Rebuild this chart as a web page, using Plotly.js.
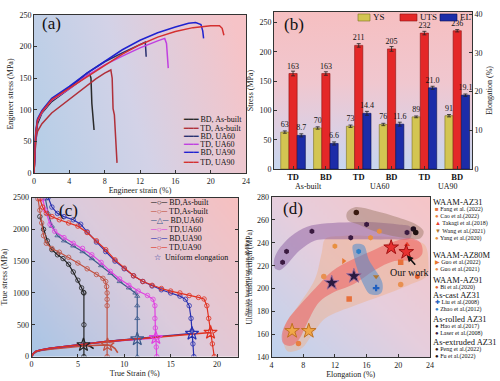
<!DOCTYPE html>
<html><head><meta charset="utf-8">
<script src="https://cdn.plot.ly/plotly-3.0.1.min.js"></script>
<style>html,body{margin:0;padding:0;background:#fff}#chart{width:500px;height:381px}</style>
</head><body><div id="chart"></div>
<script>
// ===== (a) engineering stress-strain =====
const aNames  = ['BD, As-built','TD, As-built','BD, UA60','TD, UA60','BD, UA90','TD, UA90'];
const aColors = ['#2a2a2a','#b0303a','#283070','#c040e0','#1e22d0','#d43030'];
const aX = [
  [0,0.1,0.2,0.4,0.9,2,3,4,5,6,6.3,6.45,6.55,6.8],
  [0,0.1,0.2,0.4,0.9,2,3,4,5,6,7,8,8.7,8.85,8.95,9.1,9.25,9.4],
  [0,0.1,0.2,0.4,0.9,2,3,4,6,8,10,12,12.6,12.65,12.7],
  [0,0.1,0.2,0.4,0.9,2,3,4,6,8,10,12,14,14.8,15.0,15.1,15.2],
  [0,0.1,0.2,0.4,0.9,2,3,4,6,8,10,12,14,16,17.5,18.3,18.9,19.1,19.2],
  [0,0.1,0.2,0.4,0.9,2,3,4,6,8,10,12,14,16,18,20,21,21.3,21.5]
];
const aY = [
  [0,30,55,78,95,113,123,133,143,154,157,150,110,68],
  [0,30,52,66,78,95,106,116,128,139,149,158,163,150,102,92,60,16],
  [0,35,62,84,97,116,126,135,158,176,190,204,207,196,184],
  [0,35,62,82,96,115,124,133,154,171,185,198,209,213,205,185,166],
  [0,38,66,86,99,118,127,137,158,177,195,210,222,231,237,238,235,225,213],
  [0,36,64,84,97,116,125,134,152,171,188,203,215,224,230,233,233,229,218]
];

// ===== (b) bar chart =====
const bCats   = ['TD','BD','TD','BD','TD','BD'];
const bGroups = ['As-built','UA60','UA90'];
const bYS  = [63,70,73,76,89,91];
const bUTS = [163,163,211,205,232,236];
const bEL  = [8.7,6.6,14.4,11.6,21.0,19.1];
const bErrYS  = [2,2,2,2,1.5,2];
const bErrUTS = [4,3,3,4,3,2];
const bErrEL  = [0.4,0.4,0.5,0.5,0.4,0.3];

// ===== (c) strain hardening / true stress =====
const cNames  = ['BD,As-built','TD,As-built','BD,UA60','TD,UA60','BD,UA90','TD,UA90'];
const cColors = ['#222222','#c05040','#3c5a8c','#e040e0','#2830b0','#e03020'];
const cSym    = ['circle-open','circle-open','triangle-up-open','circle-open','circle-open','circle-open'];
const cHX = [
  [0.9,1.3,1.7,2.2,2.8,3.4,4.0,4.5,5.0,5.4,5.6,5.65,5.65,5.65],
  [0.7,0.9,1.1,1.3,1.6,2.2,3,4,5,6,7,7.7,8.0,8.1,8.15,8.15,8.15,8.15],
  [1.5,1.8,2.2,2.8,3.5,4.5,5.5,6.5,7.5,8.5,9.5,10.5,11.2,11.4,11.4,11.4,11.4],
  [1.2,1.5,2.0,2.5,3.5,4.5,5.5,6.5,7.5,8.5,9.5,10.5,11.5,12.5,13.1,13.3,13.3,13.35,13.4,13.45,13.5],
  [1.8,2.2,2.8,3.5,4.5,5.3,6,7,8,9,10,11,12,13,14,15,16,16.6,17,17.2,17.3,17.4,17.5],
  [0.9,1.2,1.6,2.2,3,4,5,6,7,8,9,10,11,12,13,14,15,16,17,18,18.6,18.9,19.1,19.3,19.5,19.7]
];
const cHY = [
  [2200,2000,1820,1680,1600,1540,1450,1330,1200,1080,1010,1000,500,0],
  [2480,2300,2100,1900,1780,1700,1640,1560,1470,1380,1290,1230,1180,1100,1000,900,800,0],
  [2480,2250,2050,1900,1820,1740,1650,1540,1430,1310,1180,1080,1000,950,800,600,0],
  [2480,2300,2080,1970,1870,1780,1700,1600,1480,1340,1220,1120,1030,960,900,800,600,450,300,150,0],
  [2500,2350,2250,2200,2150,2080,1960,1800,1650,1500,1380,1270,1180,1110,1050,1000,950,900,800,600,400,200,0],
  [2480,2350,2250,2200,2150,2100,2050,1950,1820,1680,1520,1390,1270,1180,1120,1070,1030,1000,960,930,905,800,600,400,200,0]
];
const cSX = [
  [0,0.2,0.5,1,2,3.4,4.5,5.6,6,6.4,6.7],
  [0,0.2,0.5,1,2,3.4,5,6.5,8.2,8.6,9.0,9.3],
  [0,0.2,0.5,1,2,3.4,5,6.5,8,10,11.4],
  [0,0.2,0.5,1,2,3.4,5,6.5,8,10,11.4,13.4],
  [0,0.2,0.5,1,2,3.4,5,6.5,8,10,12,14,16,17.3],
  [0,0.2,0.5,1,2,3.4,5,6.5,8,10,12,14,16,17.3,19.3]
];
const cSY = [
  [0,48,80,100,125,150,168,184,178,155,125],
  [0,45,75,95,118,140,160,175,184,170,125,60],
  [0,50,85,105,130,158,185,210,235,260,275],
  [0,50,85,105,130,158,185,210,235,258,275,295],
  [0,50,85,105,130,158,185,210,235,262,290,318,345,362],
  [0,50,85,105,130,158,185,210,235,262,290,318,345,362,378]
];
const cUniX = [5.6,8.2,11.4,13.4,17.3,19.3];
const cUniY = [184,184,275,295,362,378];

// ===== (d) UTS vs elongation comparison =====
const dNames = ['Fang et al. (2022)','Cao et al.(2022)','Takagi et al.(2018)','Wang et al.(2021)','Yang et al.(2020)',
  'Guo et al.(2022)','Guo et al.(2021)','Bi et al.(2020)','Liu et al.(2008)','Zhao et al.(2012)',
  'Hao et al.(2017)','Laser et al.(2008)','Peng et al.(2022)','Fu et al.(2022)'];
const dGroupNames = ['WAAM-AZ31','WAAM-AZ80M','WAAM-AZ91','As-cast AZ31','As-rolled AZ31','As-extruded AZ31'];
const dSymbols = ['square','circle','triangle-up','triangle-down','hexagon','triangle-right','circle','hexagon','cross','hexagon','circle','hexagon','circle','circle'];
const dGlyphs  = ['■','●','▲','▼','●','▶','●','●','✚','●','●','●','●','●'];
const dColors  = ['#e8703a','#e88040','#e84030','#b07830','#e89040','#e87830','#e89050','#e06030','#2060c0','#3080c8','#201020','#3a1a40','#3a1a10','#201010'];
const dX = [[13.8,20.3],[7.4],[21.1],[17.2],[12.0,16.5,17.6],[13.1],[10.6,20.3],[22.4],[17.2],[15.0],[21.9],[5.4,5.9,9.1,14.0,16.0,21.1],[14.7],[22.2]];
const dY = [[191,223],[152],[238.5],[210.5],[237,244.5,250],[224],[210.5,203.5],[210.5],[200.5],[232.5],[252],[223,232.5,250,244.5,256,249],[266.5],[249]];
const dStarFill = ['#f0a848','#f0a848','#2a1a40','#2a1a40','#e83030','#e83030'];
const dStarLine = ['#c07020','#c07020','#9a6a9a','#9a6a9a','#a01010','#a01010'];
// shaded regions (Elongation, UTS)
const regOrangeX = [10.8,13,16,19.2,22,23.4,23.8,23.6,21.3,18,14.6,10.8,9.1,7.8,6.1,5.5,5.7,7.4,9.5,10.35];
const regOrangeY = [243.5,246,246,245,242,237.7,222,211,203,194,185.5,174,159.4,147.8,145,153.6,168,185.5,208.7,231.8];
const regPurpleX = [4.3,4.8,6.5,8.5,11,14,17,20,21.5,21.5,19,15,11,9.5,7.5,5.8,5,4.4];
const regPurpleY = [224,233,246,254,257,258,258,256,254,244,243,243,243,242,233,220,216,218];
const regBrownX = [13.5,14.5,17,20,22.5,23.2,22.8,20,17,15,13.6];
const regBrownY = [266,271,268,262,255,250,244,245,250,256,260];
const regRedX = [5.3,6,7.5,9.5,11.6,14.4,17,19,21.5,22.8,23,22,19.5,17,14.4,11.6,10,8.5,7.5,6.5,5.5];
const regRedY = [160,172,185,200,215,226,234,240,244,240,230,225,224,216,204,196,188,170,156,150,152];
const regBlueX = [14.3,15.6,16.3,18,17.8,16.5,15.5,14.4];
const regBlueY = [238,238,225,205,196,195,205,228];

// ===== layout helpers =====
const W = 500, H = 381;
const serif = '"Liberation Serif","DejaVu Serif",serif';
const dx = (a,b)=>[a/W,b/W];
const dy = (top,bot)=>[1-bot/H,1-top/H];
const A = {x:dx(34,246),   y:dy(15,173)};
const B = {x:dx(274,472),  y:dy(12,169)};
const C = {x:dx(31.5,238), y:dy(197.5,356.6)};
const D = {x:dx(271.5,430),y:dy(197,357.3)};

function grad(w,h,x0,y0,x1,y1,stops){
  const c=document.createElement('canvas'); c.width=w; c.height=h;
  const g=c.getContext('2d'); const lg=g.createLinearGradient(x0,y0,x1,y1);
  stops.forEach(s=>lg.addColorStop(s[0],s[1])); g.fillStyle=lg; g.fillRect(0,0,w,h);
  return c.toDataURL();
}
function bgImg(P,src){
  return {source:src,xref:'paper',yref:'paper',x:P.x[0],y:P.y[1],sizex:P.x[1]-P.x[0],sizey:P.y[1]-P.y[0],
    xanchor:'left',yanchor:'top',sizing:'stretch',layer:'below'};
}
const images = [
  bgImg(A, grad(212,158,0,110,212,48,[[0,'#b7cee7'],[0.45,'#d3d2e7'],[1,'#f6c3c7']])),
  bgImg(B, grad(198,157,0,0,0,157,[[0,'#f6bfc1'],[0.45,'#f0c7cf'],[0.75,'#dccfe3'],[1,'#c6d6ef']])),
  bgImg(C, grad(207,159,0,159,207,0,[[0,'#a8c5e6'],[0.5,'#dccbdc'],[1,'#f7c0c0']])),
  bgImg(D, grad(159,160,0,160,159,0,[[0,'#bfd3ee'],[0.5,'#e6cedd'],[1,'#f6c5c7']]))
];

const axBase = {showline:true,linecolor:'#333',linewidth:1,mirror:true,ticks:'inside',ticklen:3,tickcolor:'#333',
  tickfont:{family:serif,size:8,color:'#222'},showgrid:false,zeroline:false,automargin:false};
const tt = (t,s)=>({text:t,font:{family:serif,size:s||8,color:'#222'}});

const traces = [];
// (a)
aNames.forEach((n,i)=>traces.push({type:'scatter',mode:'lines',x:aX[i],y:aY[i],xaxis:'x',yaxis:'y',
  line:{color:aColors[i],width:1.5},showlegend:false,name:n}));
// (b)
const bIdx = bCats.map((c,i)=>i);
const barCommon = {type:'bar',xaxis:'x2',width:0.25,textposition:'outside',constraintext:'none',cliponaxis:false,
  textfont:{family:serif,size:8,color:'#111'},showlegend:false};
traces.push(Object.assign({},barCommon,{x:bIdx,y:bYS,yaxis:'y2',offset:-0.375,name:'YS',
  marker:{color:'#d3c552',line:{color:'#7a7020',width:0.6}},text:bYS.map(String),
  error_y:{type:'data',array:bErrYS,color:'#222',thickness:0.8,width:2}}));
traces.push(Object.assign({},barCommon,{x:bIdx,y:bUTS,yaxis:'y2',offset:-0.125,name:'UTS',
  marker:{color:'#e42828',line:{color:'#8a1010',width:0.6}},text:bUTS.map(String),
  error_y:{type:'data',array:bErrUTS,color:'#222',thickness:0.8,width:2}}));
traces.push(Object.assign({},barCommon,{x:bIdx,y:bEL,yaxis:'y3',offset:0.125,name:'EL',
  marker:{color:'#1c2ca8',line:{color:'#0a1050',width:0.6}},text:bEL.map(v=>v.toFixed(1)),
  error_y:{type:'data',array:bErrEL,color:'#222',thickness:0.8,width:2}}));
// (c) true stress on left axis, strain hardening rate on right axis
cNames.forEach((n,i)=>traces.push({type:'scatter',mode:'lines',x:cSX[i],y:cSY[i],xaxis:'x3',yaxis:'y4',
  line:{color:cColors[i],width:1.6},showlegend:false}));
cNames.forEach((n,i)=>traces.push({type:'scatter',mode:'lines+markers',x:cHX[i],y:cHY[i],xaxis:'x3',yaxis:'y6',
  line:{color:cColors[i],width:1.2},marker:{symbol:cSym[i],size:4.5,color:cColors[i],line:{width:0.8}},showlegend:false,name:n}));
traces.push({type:'scatter',mode:'markers',x:cUniX,y:cUniY,xaxis:'x3',yaxis:'y4',
  marker:{symbol:'star-open',size:10,color:cColors,line:{width:1.2}},showlegend:false,name:'Uniform elongation'});
// (d) regions
const region=(x,y,c)=>({type:'scatter',mode:'lines',x:x.concat([x[0]]),y:y.concat([y[0]]),xaxis:'x4',yaxis:'y5',
  fill:'toself',fillcolor:c,line:{width:0,shape:'spline',smoothing:1},hoverinfo:'skip',showlegend:false});
traces.push(region(regOrangeX,regOrangeY,'rgba(240,175,135,0.45)'));
traces.push(region(regPurpleX,regPurpleY,'rgba(125,75,150,0.42)'));
traces.push(region(regBrownX,regBrownY,'rgba(150,115,95,0.45)'));
traces.push(region(regRedX,regRedY,'rgba(238,85,85,0.5)'));
traces.push(region(regBlueX,regBlueY,'rgba(80,140,205,0.55)'));
dNames.forEach((n,i)=>traces.push({type:'scatter',mode:'markers',x:dX[i],y:dY[i],xaxis:'x4',yaxis:'y5',name:n,
  marker:{symbol:dSymbols[i],size:5.5,color:dColors[i],line:{width:0}},showlegend:false}));
traces.push({type:'scatter',mode:'markers',x:bEL,y:bUTS,xaxis:'x4',yaxis:'y5',name:'Our work',
  marker:{symbol:'star',size:11,color:dStarFill,line:{color:dStarLine,width:1}},showlegend:false});

// ===== annotations =====
const anns = [];
const pa = (px,py,text,size,opt)=>anns.push(Object.assign({xref:'paper',yref:'paper',x:px/W,y:1-py/H,text:text,
  showarrow:false,xanchor:'left',yanchor:'middle',font:{family:serif,size:size,color:'#111'}},opt||{}));
// panel labels
pa(40,23,'(a)',17); pa(282,25,'(b)',17); pa(57,210,'(c)',17); pa(281,208,'(d)',17);
// (a) legend
const aLegY=[119,128,136,144,153,162];
aNames.forEach((n,i)=>pa(181,aLegY[i],`<span style="color:${aColors[i]}">━━━</span> ${n}`,8));
// (b) legend text + group labels
pa(371,17.5,'YS',9); pa(418,17.5,'UTS',9); pa(458,17.5,'EL',9);
const bGroupPx=[308,380,448];
bGroups.forEach((g,i)=>pa(bGroupPx[i],186.5,g,8,{xanchor:'center'}));
// (c) right-axis title
pa(247,277,'Strain hardening rate (MPa)',7,{xanchor:'center',textangle:-90,font:{family:serif,size:7,color:'#222'}});
// (c) legend
const cLegY=[202,211,220,229,238,247,257];
const cGl=['○','○','△','○','○','○'];
cNames.forEach((n,i)=>pa(148,cLegY[i],`<span style="color:${cColors[i]}">─${cGl[i]}─</span> ${n}`,8));
pa(152,cLegY[6],`<span style="color:#2830a0">☆</span>  Uniform elongation`,8);
// (d) legend
const dTitleY=[202,255,280,294.5,318.5,341.5];
const dItemY=[209.5,216.5,223.5,231,238,262,269,287.5,302.5,309,326,333,349,356];
dGroupNames.forEach((k,i)=>pa(431,dTitleY[i],k,8.5));
dNames.forEach((n,i)=>pa(433,dItemY[i],`<span style="color:${dColors[i]}">${dGlyphs[i]}</span> ${n}`,6));
// Our work
anns.push({xref:'x4',yref:'y5',axref:'x4',ayref:'y5',x:21.1,y:229,ax:22.3,ay:219.5,text:'',showarrow:true,
  arrowhead:2,arrowsize:0.8,arrowwidth:1.6,arrowcolor:'#111'});
anns.push({xref:'x4',yref:'y5',x:21.4,y:214.5,text:'Our work',showarrow:false,font:{family:serif,size:10,color:'#111'}});

// (b) legend keys
const shapes = [
  {type:'rect',xref:'paper',yref:'paper',x0:358/W,x1:370/W,y0:1-21/H,y1:1-14/H,fillcolor:'#d3c552',line:{color:'#7a7020',width:0.6}},
  {type:'rect',xref:'paper',yref:'paper',x0:400/W,x1:417/W,y0:1-21/H,y1:1-14/H,fillcolor:'#e42828',line:{color:'#8a1010',width:0.6}},
  {type:'rect',xref:'paper',yref:'paper',x0:440/W,x1:457/W,y0:1-21/H,y1:1-14/H,fillcolor:'#1c2ca8',line:{color:'#0a1050',width:0.6}}
];

const layout = {
  width:W,height:H,margin:{l:0,r:0,t:0,b:0},paper_bgcolor:'#fff',plot_bgcolor:'rgba(0,0,0,0)',
  showlegend:false,barmode:'overlay',images:images,annotations:anns,shapes:shapes,
  xaxis:Object.assign({},axBase,{domain:A.x,anchor:'y',range:[0,24],dtick:4,title:Object.assign(tt('Engineer strain (%)'),{standoff:2})}),
  yaxis:Object.assign({},axBase,{domain:A.y,anchor:'x',range:[0,250],dtick:50,title:Object.assign(tt('Engineer stress (MPa)'),{standoff:4})}),
  xaxis2:Object.assign({},axBase,{domain:B.x,anchor:'y2',range:[-0.58,5.45],tickvals:bIdx,ticktext:bCats.map(c=>'<b>'+c+'</b>'),
    ticks:'inside',tickfont:{family:serif,size:8.5,color:'#111'}}),
  yaxis2:Object.assign({},axBase,{domain:B.y,anchor:'x2',range:[0,268],dtick:50,mirror:false,title:Object.assign(tt('Stress (MPa)'),{standoff:4})}),
  yaxis3:Object.assign({},axBase,{overlaying:'y2',side:'right',anchor:'x2',range:[0,40.6],dtick:10,mirror:false,title:Object.assign(tt('Elongation (%)'),{standoff:4})}),
  xaxis3:Object.assign({},axBase,{domain:C.x,anchor:'y4',range:[0,22.26],tickvals:[0,5,10,15,20],title:Object.assign(tt('True Strain (%)'),{standoff:2})}),
  yaxis4:Object.assign({},axBase,{domain:C.y,anchor:'x3',range:[0,2500],dtick:500,mirror:false,title:Object.assign(tt('True stress (MPa)'),{standoff:4})}),
  yaxis6:Object.assign({},axBase,{overlaying:'y4',side:'right',anchor:'x3',range:[0,2500],dtick:500,mirror:false,showticklabels:false}),
  xaxis4:Object.assign({},axBase,{domain:D.x,anchor:'y5',range:[4,24],dtick:4,title:Object.assign(tt('Elongation (%)'),{standoff:2})}),
  yaxis5:Object.assign({},axBase,{domain:D.y,anchor:'x4',range:[140,280],dtick:20,title:Object.assign(tt('Ultimate tensile strength (MPa)',7.5),{standoff:3})})
};
Plotly.newPlot('chart',traces,layout,{staticPlot:true,displayModeBar:false});
</script></body></html>
